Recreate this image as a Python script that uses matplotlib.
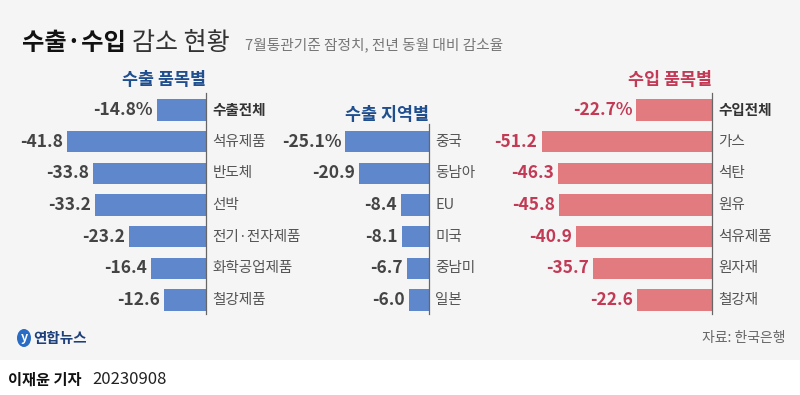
import matplotlib
matplotlib.use("Agg")
import matplotlib.pyplot as plt
from matplotlib.patches import Rectangle, Ellipse

plt.rcParams['font.family'] = ['Noto Sans CJK KR', 'DejaVu Sans']

# data
exp_items = ['수출전체', '석유제품', '반도체', '선박', '전기·전자제품', '화학공업제품', '철강제품']
exp_item_vals = [-14.8, -41.8, -33.8, -33.2, -23.2, -16.4, -12.6]
exp_regions = ['중국', '동남아', 'EU', '미국', '중남미', '일본']
exp_region_vals = [-25.1, -20.9, -8.4, -8.1, -6.7, -6.0]
imp_items = ['수입전체', '가스', '석탄', '원유', '석유제품', '원자재', '철강재']
imp_item_vals = [-22.7, -51.2, -46.3, -45.8, -40.9, -35.7, -22.6]

W, H = 800, 395
BG = '#f5f5f5'
BLUE = '#5f87cb'
RED = '#e27b80'
NAVY = '#1f4f8f'
CRIMSON = '#c23a55'

fig = plt.figure(figsize=(8, 3.95), dpi=100)
fig.patch.set_facecolor('white')
fig.patches.append(Rectangle((0, 1 - 360 / H), 1, 360 / H, transform=fig.transFigure,
                             facecolor=BG, edgecolor='none', zorder=-5))


def px(x, y):
    return x / W, 1 - y / H


# title
fig.text(*px(22, 43), '수출·수입', fontsize=17.5, fontweight='bold', color='#111', va='center')
fig.text(*px(132, 43), '감소 현황', fontsize=18, color='#333', va='center')
fig.text(*px(245, 45), '7월통관기준 잠정치, 전년 동월 대비 감소율', fontsize=10.6,
         color='#777', va='center')

scale = 3.33   # px per unit
top, bottom = 94.25, 315.75


def panel(axis_x, cats, vals, color, val_color, start, title, title_color, title_y):
    left = axis_x - 60 * scale
    ax = fig.add_axes([left / W, 1 - bottom / H, 60 * scale / W, (bottom - top) / H])
    ax.set_xlim(-60, 0)
    ax.set_ylim(6.5, -0.5)
    ax.axis('off')
    ys = list(range(start, start + len(cats)))
    ax.barh(ys, vals, height=0.67, color=color)
    ax.plot([0, 0], [start - 0.55, 6.45], color='#666', lw=0.9, clip_on=False)
    for i, (y, c, v) in enumerate(zip(ys, cats, vals)):
        lab = f'{v:.1f}%' if i == 0 else f'{v:.1f}'
        ax.annotate(lab, (v, y), xytext=(-3, 0), textcoords='offset points', ha='right',
                    va='center', fontsize=12.5, fontweight='bold', color=val_color,
                    annotation_clip=False)
        bold = (i == 0 and start == 0)
        ax.annotate(c, (0, y), xytext=(4.5, 0), textcoords='offset points', ha='left',
                    va='center', fontsize=10.5, fontweight='bold' if bold else 'normal',
                    color='#333' if bold else '#555', annotation_clip=False)
    fig.text(*px(axis_x, title_y), title, fontsize=12.5, fontweight='bold', color=title_color,
             ha='right', va='center')
    return ax


panel(206, exp_items, exp_item_vals, BLUE, '#444', 0, '수출 품목별', NAVY, 80)
panel(429, exp_regions, exp_region_vals, BLUE, '#444', 1, '수출 지역별', NAVY, 115)
panel(712, imp_items, imp_item_vals, RED, CRIMSON, 0, '수입 품목별', CRIMSON, 80)

# footer
fig.patches.append(Ellipse(px(24, 338), 14 / W, 18 / H, angle=0, transform=fig.transFigure,
                           facecolor='#2a6cc4', edgecolor='none', zorder=2))
fig.text(*px(24, 338), 'y', fontsize=9, fontweight='bold', color='white', ha='center',
         va='center', style='italic')
fig.text(*px(33, 338), '연합뉴스', fontsize=10.5, fontweight='bold', color='#1d3f7a',
         va='center')
fig.text(*px(785, 338), '자료: 한국은행', fontsize=10, color='#666', ha='right', va='center')
fig.text(*px(8, 380), '이재윤 기자', fontsize=11, fontweight='bold', color='#111', va='center')
fig.text(*px(92, 380), '20230908', fontsize=12, color='#222', va='center')

fig.savefig('out.png', dpi=100, facecolor=fig.get_facecolor())
